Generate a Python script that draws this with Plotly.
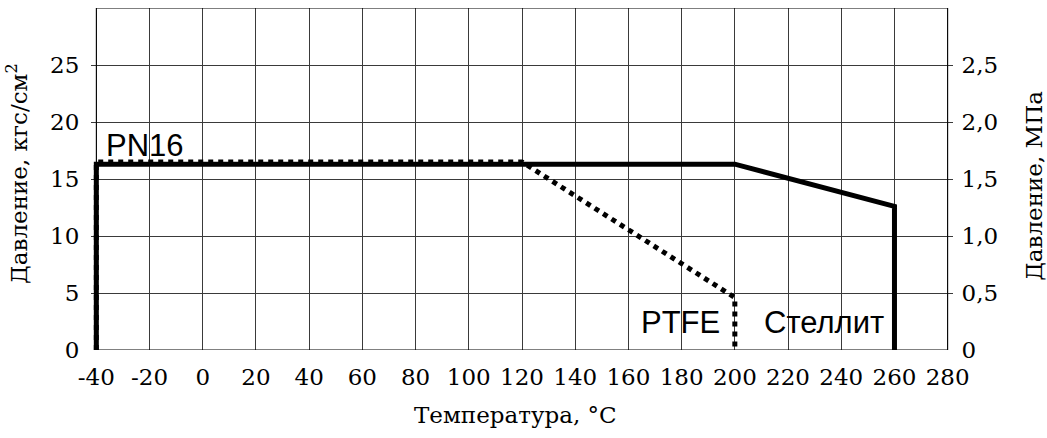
import plotly.graph_objects as go

# Data (temperature °C, pressure kgf/cm²)
stellite_t = [-40, -40, 200, 260, 260]
stellite_p = [0, 16.3, 16.3, 12.6, 0]
ptfe_t = [-40, -40, 120, 200, 200]
ptfe_p = [0, 16.5, 16.5, 4.6, 0]

x_ticks = list(range(-40, 281, 20))
x_ticktext = [str(v) for v in x_ticks]
y_ticks = [0, 5, 10, 15, 20, 25]
y_ticktext = [str(v) for v in y_ticks]
y2_ticks = [0, 0.5, 1.0, 1.5, 2.0, 2.5]
y2_ticktext = ["0", "0,5", "1,0", "1,5", "2,0", "2,5"]

labels = ["PN16", "PTFE", "Стеллит"]

serif = "DejaVu Serif"
sans = "Liberation Sans"

fig = go.Figure()
fig.add_trace(go.Scatter(x=stellite_t, y=stellite_p, mode="lines",
                         line=dict(color="black", width=5), showlegend=False))
fig.add_trace(go.Scatter(x=ptfe_t, y=ptfe_p, mode="lines",
                         line=dict(color="black", width=5, dash="5px,5px"), showlegend=False))
# invisible trace carrying the right (MPa) axis
fig.add_trace(go.Scatter(x=[-40], y=[0], yaxis="y2", mode="lines",
                         line=dict(width=0), showlegend=False, hoverinfo="skip"))

fig.update_layout(
    width=1047, height=438,
    margin=dict(l=91, r=94, t=8, b=88),
    paper_bgcolor="white", plot_bgcolor="white",
    xaxis=dict(range=[-42, 282], tickvals=x_ticks, ticktext=x_ticktext,
               showgrid=True, gridcolor="#3a3a3a", gridwidth=1, zeroline=False,
               showline=False, ticks="outside", ticklen=6, tickcolor="rgba(0,0,0,0)",
               tickfont=dict(family=serif, size=23, color="black")),
    yaxis=dict(range=[0, 30], tickvals=y_ticks, ticktext=y_ticktext,
               showgrid=True, gridcolor="#3a3a3a", gridwidth=1, zeroline=False,
               showline=False, ticks="outside", ticklen=6, tickcolor="rgba(0,0,0,0)",
               tickfont=dict(family=serif, size=23, color="black")),
    yaxis2=dict(range=[0, 3], overlaying="y", side="right", tickvals=y2_ticks,
                ticktext=y2_ticktext, showgrid=False, zeroline=False, showline=False,
                ticks="outside", ticklen=3, tickcolor="rgba(0,0,0,0)",
                tickfont=dict(family=serif, size=23, color="black")),
    shapes=[dict(type="rect", xref="x", yref="y", x0=-40, x1=280, y0=0, y1=30,
                 line=dict(color="black", width=1), layer="above")],
)

fig.add_annotation(x=-37, y=17.9, xref="x", yref="y", text=labels[0], showarrow=False,
                   xanchor="left", yanchor="middle", font=dict(family=sans, size=31, color="black"))
fig.add_annotation(x=195.2, y=2.4, xref="x", yref="y", text=labels[1], showarrow=False,
                   xanchor="right", yanchor="middle", font=dict(family=sans, size=31, color="black"))
fig.add_annotation(x=210.2, y=2.4, xref="x", yref="y", text=labels[2], showarrow=False,
                   xanchor="left", yanchor="middle", font=dict(family=sans, size=31, color="black"))

fig.add_annotation(x=-0.086, y=0.5175, xref="paper", yref="paper",
                   text="Давление, кгс/см<sup>2</sup>", showarrow=False, textangle=-90,
                   xanchor="center", yanchor="middle", font=dict(family=serif, size=23, color="black"))
fig.add_annotation(x=1.094, y=0.48, xref="paper", yref="paper",
                   text="Давление, МПа", showarrow=False, textangle=-90,
                   xanchor="center", yanchor="middle", font=dict(family=serif, size=23, color="black"))
fig.add_annotation(x=0.493, y=-0.19, xref="paper", yref="paper",
                   text="Температура, °C", showarrow=False,
                   xanchor="center", yanchor="middle", font=dict(family=serif, size=23, color="black"))

fig.write_html("out.html", config={"displayModeBar": False},
               post_script="document.body.style.margin='0';")
